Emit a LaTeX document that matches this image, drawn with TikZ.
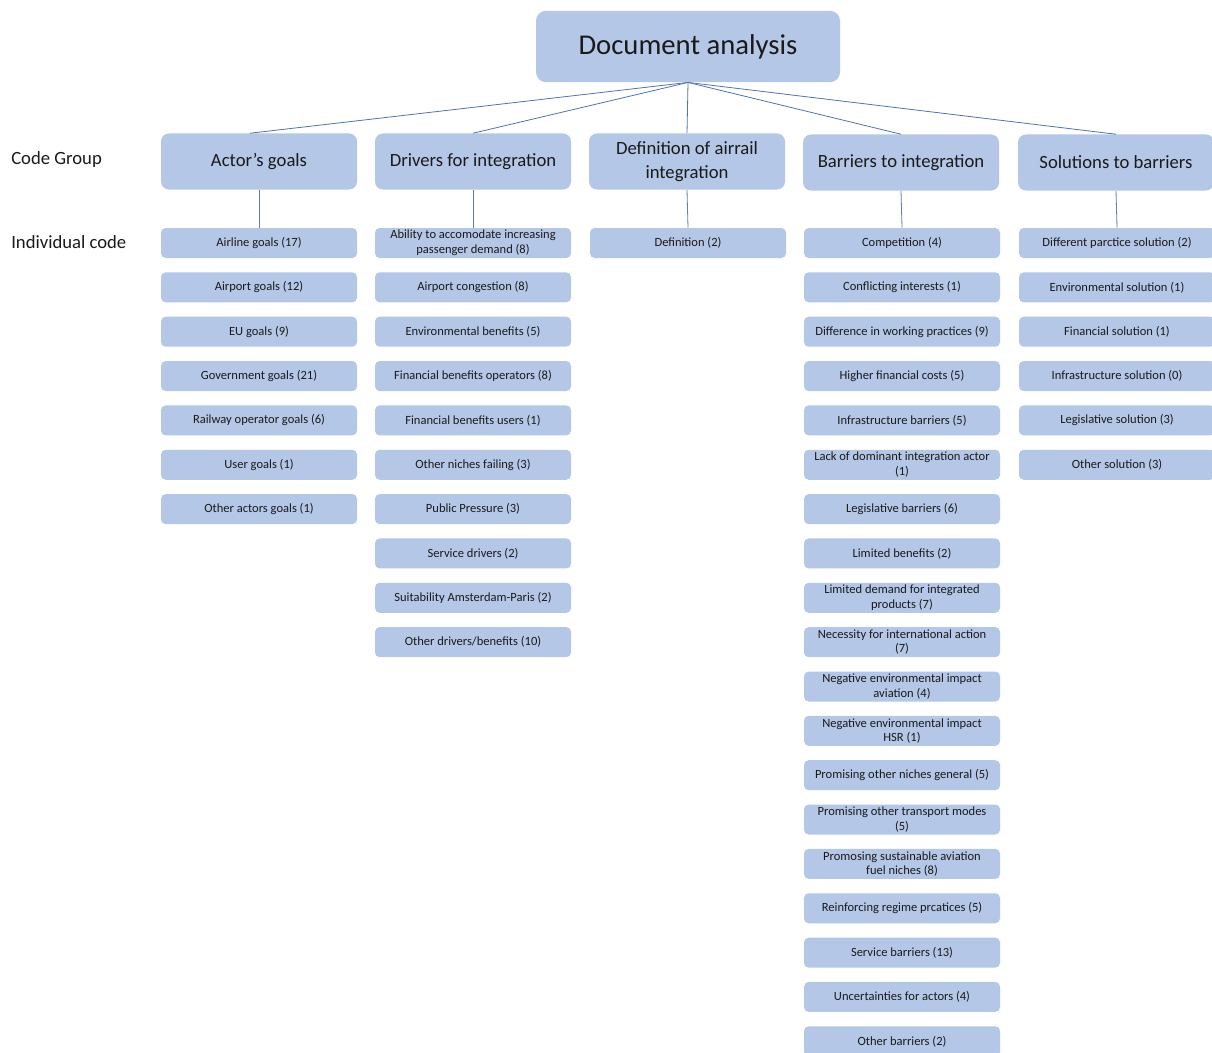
\documentclass[tikz,border=0pt]{standalone}
\usepackage{fontspec}
\setmainfont{Carlito}
\definecolor{boxfill}{HTML}{B4C7E7}
\definecolor{linecol}{HTML}{5273AE}
\definecolor{vlinecol}{HTML}{687C9C}
\definecolor{txt}{HTML}{1A1A1A}
\begin{document}
\begin{tikzpicture}[x=0.75pt,y=-0.75pt,
  topbox/.style={fill=boxfill,rounded corners=7.5pt,minimum width=228pt,minimum height=53.5pt,inner sep=0pt,text=txt,font=\fontsize{21.5}{26}\selectfont},
  grpbox/.style={fill=boxfill,rounded corners=6pt,minimum width=147pt,minimum height=42pt,inner sep=0pt,align=center,text=txt,font=\fontsize{14}{17.5}\selectfont},
  icbox/.style={fill=boxfill,rounded corners=3.5pt,minimum width=147pt,minimum height=22.5pt,inner sep=0pt,align=center,text=txt,font=\fontsize{9.4}{11}\selectfont},
  lbl/.style={anchor=west,inner sep=0pt,text=txt,font=\fontsize{14}{17}\selectfont},
  conn/.style={draw=linecol,line width=0.6pt},
  vconn/.style={draw=vlinecol,line width=0.6pt}]
\clip (0,0) rectangle (1212,1052);
\fill[white] (0,0) rectangle (1212,1052);

\node[topbox] (top) at (688,46.5) {Document analysis};

\node[grpbox] (g1) at (259,161.5) {Actor’s goals};
\node[grpbox] (g2) at (473,161.5) {Drivers for integration};
\node[grpbox] (g3) at (687,161.5) {Definition of airrail\\integration};
\node[grpbox] (g4) at (901,162.5) {Barriers to integration};
\node[grpbox] (g5) at (1116,162.5) {Solutions to barriers};

\node[lbl] (lcg) at (11,160) {Code Group};
\node[lbl] (lic) at (11,242) {Individual code};

\foreach \t [count=\i] in {{Airline goals (17)},{Airport goals (12)},{EU goals (9)},{Government goals (21)},{Railway operator goals (6)},{User goals (1)},{Other actors goals (1)}}
  \node[icbox] (a\i) at (259,{243+44.35*(\i-1)}) {\t};

\foreach \t [count=\i] in {{Ability to accomodate increasing\\passenger demand (8)},{Airport congestion (8)},{Environmental benefits (5)},{Financial benefits operators (8)},{Financial benefits users (1)},{Other niches failing (3)},{Public Pressure (3)},{Service drivers (2)},{Suitability Amsterdam-Paris (2)},{Other drivers/benefits (10)}}
  \node[icbox] (b\i) at (473,{243+44.35*(\i-1)}) {\t};

\node[icbox] (c1) at (688,243) {Definition (2)};

\foreach \t [count=\i] in {{Competition (4)},{Conflicting interests (1)},{Difference in working practices (9)},{Higher financial costs (5)},{Infrastructure barriers (5)},{Lack of dominant integration actor\\(1)},{Legislative barriers (6)},{Limited benefits (2)},{Limited demand for integrated\\products (7)},{Necessity for international action\\(7)},{Negative environmental impact\\aviation (4)},{Negative environmental impact\\HSR (1)},{Promising other niches general (5)},{Promising other transport modes\\(5)},{Promosing sustainable aviation\\fuel niches (8)},{Reinforcing regime prcatices (5)},{Service barriers (13)},{Uncertainties for actors (4)},{Other barriers (2)}}
  \node[icbox] (d\i) at (902,{243+44.35*(\i-1)}) {\t};

\foreach \t [count=\i] in {{Different parctice solution (2)},{Environmental solution (1)},{Financial solution (1)},{Infrastructure solution (0)},{Legislative solution (3)},{Other solution (3)}}
  \node[icbox] (e\i) at (1117,{243+44.35*(\i-1)}) {\t};

\draw[conn] (top.south) -- ([xshift=-6.75pt]g1.north);
\foreach \g in {g2,g3,g4,g5}
  \draw[conn] (top.south) -- (\g.north);
\draw[vconn] (g1.south) -- (a1.north);
\draw[vconn] (g2.south) -- (b1.north);
\draw[vconn] (g3.south) -- (c1.north);
\draw[vconn] (g4.south) -- (d1.north);
\draw[vconn] (g5.south) -- (e1.north);
\end{tikzpicture}
\end{document}
